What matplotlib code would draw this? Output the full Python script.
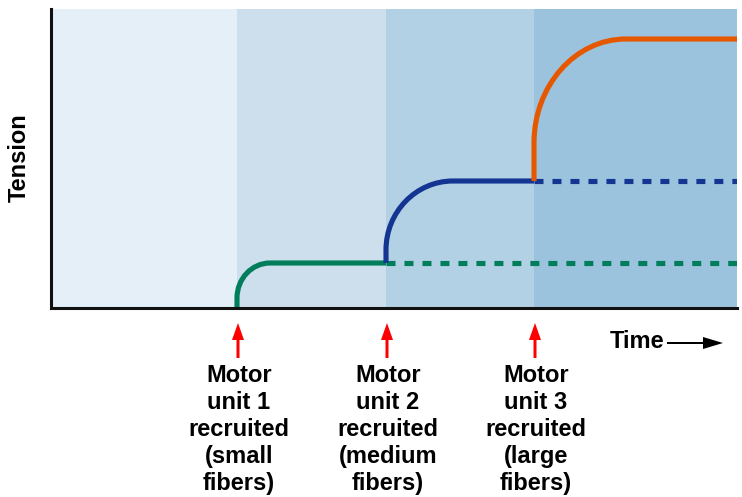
import matplotlib
matplotlib.use('Agg')
import matplotlib.pyplot as plt
from matplotlib.path import Path
from matplotlib.patches import PathPatch, FancyArrow

plt.rcParams['font.family'] = ['Liberation Sans', 'DejaVu Sans']

# schematic time axis (arbitrary units) and tension (arbitrary units)
t_end = 686
y_top = 299
onsets = [186, 335, 483]            # recruitment time of each motor unit
start_levels = [0, 45, 127]         # tension just before recruitment
plateau_levels = [45, 127, 269]     # tension after recruitment
rise_times = [33, 67, 92]           # time to reach the plateau
steep_part = [10, 13, 38]           # near-vertical onset of the rise
colors = ['#007d5b', '#143591', '#e65800']
band_colors = ['#e4eff7', '#cddfed', '#b3d1e5', '#9cc3dd']
labels = [
    ['Motor', 'unit 1', 'recruited', '(small', 'fibers)'],
    ['Motor', 'unit 2', 'recruited', '(medium', 'fibers)'],
    ['Motor', 'unit 3', 'recruited', '(large', 'fibers)'],
]

fig = plt.figure(figsize=(7.42, 4.97), dpi=100)
ax = fig.add_axes([51 / 742, 189 / 497, 686 / 742, 299 / 497])
ax.set_xlim(0, t_end)
ax.set_ylim(0, y_top)

# shaded bands between recruitment times
edges = [0] + onsets + [t_end]
for i in range(len(band_colors)):
    ax.axvspan(edges[i], edges[i + 1], color=band_colors[i], lw=0, zorder=0)

lw = 3.7
k = 0.552
for i in range(3):
    t0 = onsets[i]
    y0 = start_levels[i]
    y1 = plateau_levels[i]
    r = rise_times[i]
    ys = y0 + steep_part[i]
    t_stop = onsets[i + 1] if i < 2 else t_end
    verts = [(t0, y0), (t0, ys),
             (t0, ys + k * (y1 - ys)), (t0 + r - k * r, y1), (t0 + r, y1),
             (t_stop, y1)]
    codes = [Path.MOVETO, Path.LINETO, Path.CURVE4, Path.CURVE4, Path.CURVE4, Path.LINETO]
    ax.add_patch(PathPatch(Path(verts, codes), fill=False, edgecolor=colors[i],
                           lw=lw, capstyle='butt', joinstyle='round', zorder=3))
    if i < 2:
        ax.plot([t_stop, t_end], [y1, y1], color=colors[i], lw=lw,
                dashes=(1.75, 1.75), dash_capstyle='butt', zorder=2)

for side in ['top', 'right']:
    ax.spines[side].set_visible(False)
for side in ['left', 'bottom']:
    ax.spines[side].set_linewidth(2.2)
    ax.spines[side].set_color('#111111')
    ax.spines[side].set_zorder(5)
ax.set_xticks([])
ax.set_yticks([])

ax.text(-32, 150, 'Tension', rotation=90, ha='center', va='center',
        fontsize=17, fontweight='bold')

# recruitment arrows and captions
for i in range(3):
    ax.add_patch(FancyArrow(onsets[i] + 1, -50, 0, 35, width=3, head_width=12,
                            head_length=17, length_includes_head=True,
                            color='#ff0000', lw=0, clip_on=False))
    for j, line in enumerate(labels[i]):
        ax.text(onsets[i] + 2, -74 - 27 * j, line, ha='center', va='baseline',
                fontsize=17, fontweight='bold')

ax.text(559, -40, 'Time', ha='left', va='baseline', fontsize=17, fontweight='bold')
ax.add_patch(FancyArrow(616, -35, 56, 0, width=2, head_width=12, head_length=20,
                        length_includes_head=True, color='black', lw=0, clip_on=False))

fig.savefig('out.png', dpi=100)
